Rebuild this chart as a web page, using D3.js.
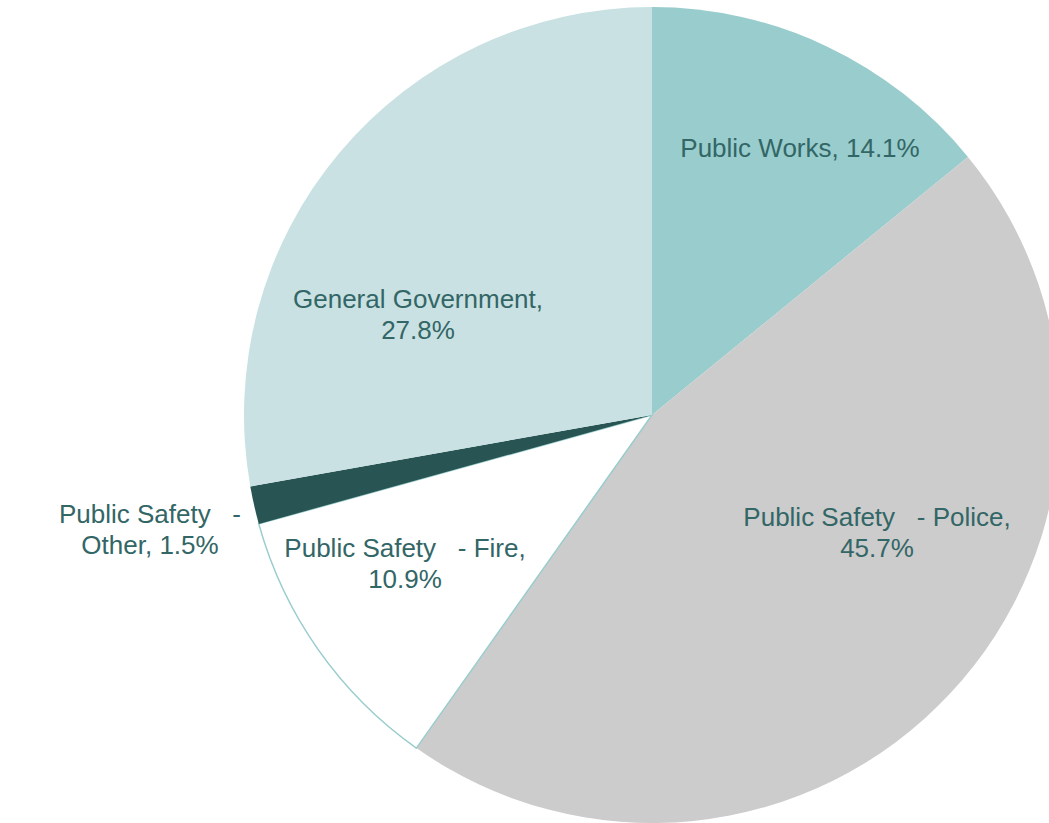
<!DOCTYPE html>
<html>
<head>
<meta charset="utf-8">
<script src="https://cdn.jsdelivr.net/npm/d3@7/dist/d3.min.js"></script>
<style>
  html, body { margin: 0; padding: 0; background: #ffffff; }
  svg { display: block; }
  text { font-family: "Liberation Sans", Arial, sans-serif; white-space: pre; }
</style>
</head>
<body>
<svg id="chart" width="1049" height="823"></svg>
<script>
// Expenditure shares by department, clockwise from 12 o'clock
const categories = ["Public Works", "Public Safety   - Police", "Public Safety   - Fire", "Public Safety   - Other", "General Government"];
const shares = [14.1, 45.7, 10.9, 1.5, 27.8];

// Label text broken into lines as drawn on the chart
const labelLines = [
  ["Public Works, 14.1%"],
  ["Public Safety   - Police,", "45.7%"],
  ["Public Safety   - Fire,", "10.9%"],
  ["Public Safety   -", "Other, 1.5%"],
  ["General Government,", "27.8%"]
];

// Layout and styling
const fills = ["#99cccc", "#cccccc", "#ffffff", "#285553", "#c9e1e2"];
const strokes = ["none", "none", "#99cccc", "none", "none"];
const labelAnchors = [[800, 157], [877, 526], [405, 557], [150, 523], [418, 308]];
const cx = 652, cy = 415, radius = 408, lineHeight = 31;

const svg = d3.select("#chart");
const g = svg.append("g").attr("transform", `translate(${cx},${cy})`);

const pie = d3.pie().value(d => d).sort(null);
const arc = d3.arc().innerRadius(0).outerRadius(radius);
const arcs = pie(shares);

g.selectAll("path.slice")
  .data(arcs)
  .join("path")
  .attr("class", "slice")
  .attr("d", arc)
  .attr("fill", (d, i) => fills[i])
  .attr("stroke", (d, i) => strokes[i])
  .attr("stroke-width", 1.5);

const labels = svg.selectAll("text.label")
  .data(categories)
  .join("text")
  .attr("class", "label")
  .attr("text-anchor", "middle")
  .attr("font-size", 26)
  .attr("fill", "#336666")
  .attr("x", (d, i) => labelAnchors[i][0])
  .attr("y", (d, i) => labelAnchors[i][1]);

labels.each(function(d, i) {
  d3.select(this).selectAll("tspan")
    .data(labelLines[i])
    .join("tspan")
    .attr("x", labelAnchors[i][0])
    .attr("dy", (t, j) => j === 0 ? 0 : lineHeight)
    .text(t => t);
});
</script>
</body>
</html>
